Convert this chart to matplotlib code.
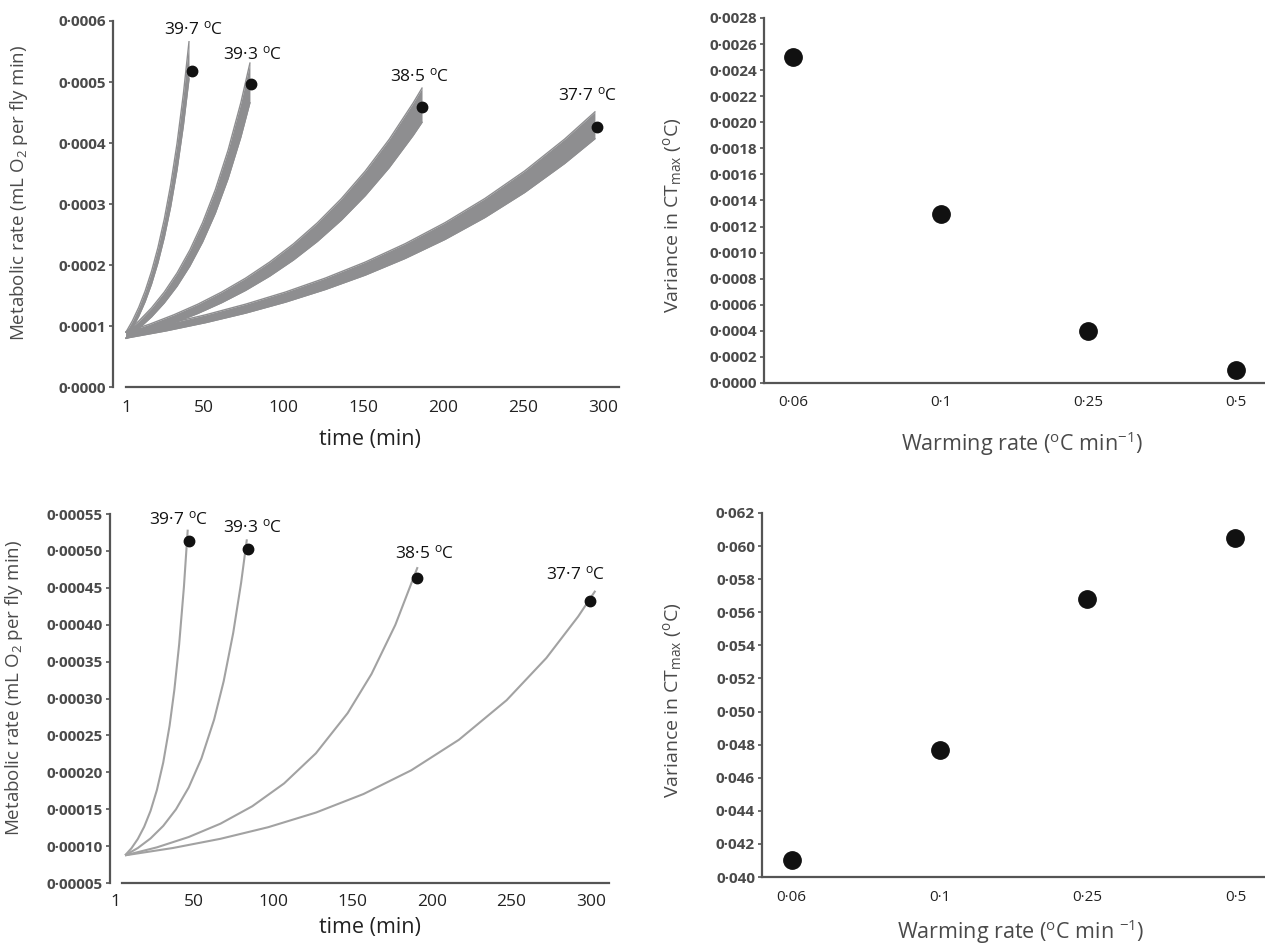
import matplotlib
matplotlib.use("Agg")
import matplotlib.pyplot as plt
from matplotlib.ticker import FuncFormatter

plt.rcParams['font.family'] = ['Open Sans', 'DejaVu Sans']
plt.rcParams['mathtext.fontset'] = 'custom'
plt.rcParams['mathtext.rm'] = 'Open Sans'
plt.rcParams['mathtext.it'] = 'Open Sans:italic'

# ---- data ----
temp_labels = ["39·7", "39·3", "38·5", "37·7"]
time_ticks = [1, 50, 100, 150, 200, 250, 300]

# top-left: bands of predicted metabolic rate (upper / lower edge)
band_times = [
    [1, 5, 9, 13, 17, 21, 25, 29, 33, 37, 40.5],
    [1, 9, 17, 25, 33, 41, 49, 57, 65, 73, 78.7],
    [1, 16, 31, 46, 61, 76, 91, 106, 121, 136, 151, 166, 181, 186.6],
    [1, 26, 51, 76, 101, 126, 151, 176, 201, 226, 251, 276, 295],
]
band_upper = [
    [0.00009, 0.0001084, 0.0001306, 0.0001574, 0.0001896, 0.0002284, 0.0002751,
     0.0003315, 0.0003993, 0.0004811, 0.000566],
    [0.00009, 0.000108, 0.0001297, 0.0001557, 0.0001869, 0.0002244, 0.0002694,
     0.0003234, 0.0003883, 0.0004661, 0.000531],
    [0.00009, 0.0001032, 0.0001184, 0.0001357, 0.0001557, 0.0001785, 0.0002047,
     0.0002347, 0.0002692, 0.0003087, 0.000354, 0.0004059, 0.0004655, 0.00049],
    [0.00009, 0.0001032, 0.0001184, 0.0001358, 0.0001557, 0.0001786, 0.0002048,
     0.0002349, 0.0002694, 0.000309, 0.0003543, 0.0004064, 0.000451],
]
band_lower = [
    [0.00008, 0.0000964, 0.0001162, 0.00014, 0.0001687, 0.0002034, 0.0002451,
     0.0002954, 0.000356, 0.000429, 0.000505],
    [0.00008, 0.0000959, 0.000115, 0.0001379, 0.0001653, 0.0001982, 0.0002376,
     0.0002849, 0.0003416, 0.0004095, 0.000466],
    [0.00008, 0.0000917, 0.0001051, 0.0001205, 0.0001382, 0.0001584, 0.0001816,
     0.0002082, 0.0002387, 0.0002736, 0.0003137, 0.0003596, 0.0004123, 0.000434],
    [0.00008, 0.0000919, 0.0001055, 0.0001211, 0.0001391, 0.0001598, 0.0001834,
     0.0002107, 0.0002419, 0.0002778, 0.000319, 0.0003664, 0.000407],
]
dot_time_a = [42.4, 79.4, 186.6, 296.3]
dot_rate_a = [0.000518, 0.000497, 0.000459, 0.000426]

# bottom-left: single curves
curve_times = [
    [7, 11, 15, 19, 23, 27, 31, 35, 38, 41, 44, 46.4],
    [7, 15, 23, 31, 39, 47, 55, 63, 69, 75, 80, 83.6],
    [7, 27, 47, 67, 87, 107, 127, 147, 162, 177, 191],
    [7, 37, 67, 97, 127, 157, 187, 217, 247, 272, 292, 302.8],
]
curve_rates = [
    [0.0000875, 0.0000971, 0.0001097, 0.0001262, 0.0001477, 0.000176, 0.0002134,
     0.0002634, 0.000312, 0.0003733, 0.0004512, 0.0005288],
    [0.0000875, 0.0000974, 0.0001104, 0.0001274, 0.0001498, 0.0001794, 0.0002187,
     0.0002715, 0.0003233, 0.0003888, 0.0004571, 0.0005157],
    [0.0000875, 0.0000983, 0.0001123, 0.0001304, 0.000154, 0.0001849, 0.0002257,
     0.0002802, 0.0003332, 0.0003998, 0.000478],
    [0.0000875, 0.0000974, 0.0001099, 0.0001256, 0.0001454, 0.0001706, 0.0002027,
     0.0002441, 0.0002977, 0.0003549, 0.0004111, 0.000446],
]
dot_time_b = [46.9, 84.0, 190.7, 299.7]
dot_rate_b = [0.000513, 0.000502, 0.000463, 0.000432]

# right panels
warming_rates = ["0·06", "0·1", "0·25", "0·5"]
variance_a = [0.0025, 0.0013, 0.0004, 0.0001]
variance_b = [0.0410, 0.0477, 0.0568, 0.0605]

# ---- style ----
AXC = "#555555"
TXT = "#4a4a4a"
BAND = "#8e8e90"
CURVE = "#a2a2a2"


def dot_fmt(nd):
    return FuncFormatter(lambda v, p: f"{v:.{nd}f}".replace(".", "·"))


def style_axes(ax, xsize=11, xpad=9):
    for s in ["top", "right"]:
        ax.spines[s].set_visible(False)
    for s in ["left", "bottom"]:
        ax.spines[s].set_color(AXC)
        ax.spines[s].set_linewidth(1.6)
    ax.tick_params(axis="y", length=3, width=1.2, color=AXC, labelcolor=TXT,
                   labelsize=11, pad=2)
    ax.tick_params(axis="x", length=0, labelcolor="#222222", labelsize=xsize, pad=xpad)
    for lab in ax.get_yticklabels():
        lab.set_fontweight("bold")


fig = plt.figure(figsize=(12.65, 9.47), dpi=100)
ax1 = fig.add_axes([113 / 1265, 1 - 387 / 947, 506 / 1265, 366 / 947])
ax2 = fig.add_axes([764 / 1265, 1 - 383 / 947, 501 / 1265, 365 / 947])
ax3 = fig.add_axes([110 / 1265, 1 - 883 / 947, 499 / 1265, 369 / 947])
ax4 = fig.add_axes([762 / 1265, 1 - 877 / 947, 503 / 1265, 364 / 947])

# top-left
for t, up, lo in zip(band_times, band_upper, band_lower):
    ax1.fill_between(t, lo, up, color=BAND, lw=0)
    ax1.plot(t, up, color=BAND, lw=1)
    ax1.plot(t, lo, color=BAND, lw=1)
ax1.plot(dot_time_a, dot_rate_a, "o", color="#111111", ms=7.5)
offs_a = [(1, 30), (1, 21), (-2, 22), (-7, 23)]
for lab, x, y, off in zip(temp_labels, dot_time_a, dot_rate_a, offs_a):
    ax1.annotate(lab + r" $^{\rm o}$C", (x, y), xytext=off, textcoords="offset points",
                 ha="center", va="center", fontsize=12.5, color="#111111")
ax1.set_xlim(-7.15, 310.1)
ax1.set_ylim(0, 0.0006)
ax1.set_yticks([i * 0.0001 for i in range(7)])
ax1.yaxis.set_major_formatter(dot_fmt(4))
ax1.set_xticks(time_ticks)
ax1.spines["bottom"].set_bounds(1, 310.1)
ax1.set_ylabel(r"Metabolic rate (mL O$_2$ per fly min)", fontsize=13.5, color=TXT)
ax1.yaxis.set_label_coords(-0.165, 0.53)
ax1.set_xlabel("time (min)", fontsize=15.5, color="#222222")
ax1.xaxis.set_label_coords(0.508, -0.115)
style_axes(ax1, xsize=12.5, xpad=9)

# bottom-left
for t, r in zip(curve_times, curve_rates):
    ax3.plot(t, r, color=CURVE, lw=1.5, solid_capstyle="butt")
ax3.plot(dot_time_b, dot_rate_b, "o", color="#111111", ms=7.5)
offs_b = [(-7, 16), (4, 16), (5, 18), (-11, 19)]
for lab, x, y, off in zip(temp_labels, dot_time_b, dot_rate_b, offs_b):
    ax3.annotate(lab + r" $^{\rm o}$C", (x, y), xytext=off, textcoords="offset points",
                 ha="center", va="center", fontsize=12.5, color="#111111")
ax3.set_xlim(-2.5, 311.4)
ax3.set_ylim(0.00005, 0.00055)
ax3.set_yticks([0.00005 * i for i in range(1, 12)])
ax3.yaxis.set_major_formatter(dot_fmt(5))
ax3.set_xticks(time_ticks)
ax3.spines["bottom"].set_bounds(5, 311.4)
ax3.set_ylabel(r"Metabolic rate (mL O$_2$ per fly min)", fontsize=13.5, color=TXT)
ax3.yaxis.set_label_coords(-0.17, 0.53)
ax3.set_xlabel("time (min)", fontsize=15.5, color="#222222")
ax3.xaxis.set_label_coords(0.52, -0.093)
style_axes(ax3, xsize=12.5, xpad=8)

# top-right
xpos = list(range(len(warming_rates)))
ax2.plot(xpos, variance_a, "o", color="#111111", ms=12.5)
ax2.set_xlim(-0.2, 3.2)
ax2.set_ylim(0, 0.0028)
ax2.set_yticks([0.0002 * i for i in range(15)])
ax2.yaxis.set_major_formatter(dot_fmt(4))
ax2.set_xticks(xpos)
ax2.set_xticklabels(warming_rates)
ax2.set_ylabel(r"Variance in CT$_{\rm max}$ ($^{\rm o}$C)", fontsize=14, color=TXT)
ax2.yaxis.set_label_coords(-0.16, 0.46)
ax2.set_xlabel(r"Warming rate ($^{\rm o}$C min$^{-1}$)", fontsize=15.5, color=TXT)
ax2.xaxis.set_label_coords(0.515, -0.127)
style_axes(ax2, xsize=11, xpad=9)

# bottom-right
ax4.plot(xpos, variance_b, "o", color="#111111", ms=12.5)
ax4.set_xlim(-0.2, 3.2)
ax4.set_ylim(0.040, 0.062)
ax4.set_yticks([0.040 + 0.002 * i for i in range(12)])
ax4.yaxis.set_major_formatter(dot_fmt(3))
ax4.set_xticks(xpos)
ax4.set_xticklabels(warming_rates)
ax4.set_ylabel(r"Variance in CT$_{\rm max}$ ($^{\rm o}$C)", fontsize=14, color=TXT)
ax4.yaxis.set_label_coords(-0.156, 0.486)
ax4.set_xlabel(r"Warming rate ($^{\rm o}$C min $^{-1}$)", fontsize=15.5, color=TXT)
ax4.xaxis.set_label_coords(0.515, -0.112)
style_axes(ax4, xsize=11, xpad=9)

fig.savefig("out.png", dpi=100)
